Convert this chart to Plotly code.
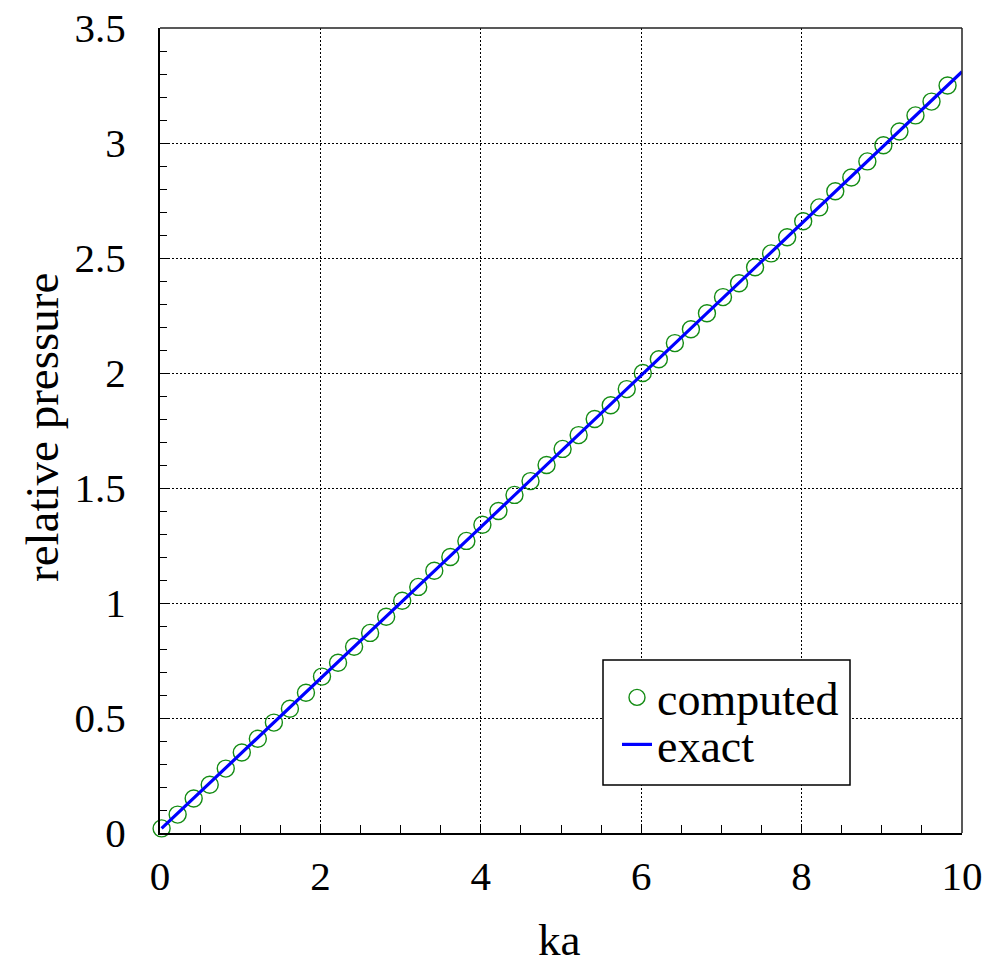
import plotly.graph_objects as go

# computed points (ka, relative pressure)
ka_computed = [0.02, 0.22, 0.42, 0.62, 0.82, 1.02, 1.22, 1.42, 1.62, 1.82,
               2.02, 2.22, 2.42, 2.62, 2.82, 3.02, 3.22, 3.42, 3.62, 3.82,
               4.02, 4.22, 4.42, 4.62, 4.82, 5.02, 5.22, 5.42, 5.62, 5.82,
               6.02, 6.22, 6.42, 6.62, 6.82, 7.02, 7.22, 7.42, 7.62, 7.82,
               8.02, 8.22, 8.42, 8.62, 8.82, 9.02, 9.22, 9.42, 9.62, 9.82]
p_computed = [0.02, 0.08, 0.15, 0.21, 0.28, 0.35, 0.41, 0.48, 0.54, 0.61,
              0.68, 0.74, 0.81, 0.87, 0.94, 1.01, 1.07, 1.14, 1.20, 1.27,
              1.34, 1.40, 1.47, 1.53, 1.60, 1.67, 1.73, 1.80, 1.86, 1.93,
              2.00, 2.06, 2.13, 2.19, 2.26, 2.33, 2.39, 2.46, 2.52, 2.59,
              2.66, 2.72, 2.79, 2.85, 2.92, 2.99, 3.05, 3.12, 3.18, 3.25]

# exact solution curve
ka_exact = [0.02, 2.0, 4.0, 6.0, 8.0, 10.0]
p_exact = [0.02, 0.67, 1.33, 1.99, 2.65, 3.31]

FONT = "Liberation Serif"
W, H = 989, 967
L, R, T, B = 160, 27, 28, 134
PW, PH = W - L - R, H - T - B


def px(xp):
    return (xp - L) / PW


def py(yp):
    return (H - B - yp) / PH


fig = go.Figure()
fig.add_trace(go.Scatter(
    x=ka_computed, y=p_computed, mode="markers", name="computed",
    marker=dict(symbol="circle-open", size=17, color="rgb(20,140,20)",
                line=dict(width=1.4, color="rgb(20,140,20)")),
    cliponaxis=False, legend="legend",
))
fig.add_trace(go.Scatter(
    x=ka_exact, y=p_exact, mode="lines", name="exact",
    line=dict(color="rgb(0,0,255)", width=3.2),
    cliponaxis=False, legend="legend2",
))

axis_common = dict(
    automargin=False,
    showline=True, linecolor="black", linewidth=2, mirror=False,
    ticks="inside", ticklen=8, tickcolor="black", tickwidth=1,
    showgrid=True, gridcolor="black", gridwidth=1, griddash="2px,2px",
    zeroline=False, tickfont=dict(family=FONT, size=41, color="black"),
)

fig.update_xaxes(range=[0, 10], tick0=0, dtick=2,
                 minor=dict(dtick=0.5, ticks="inside", ticklen=8,
                            tickcolor="black", showgrid=False),
                 ticklabelstandoff=6, **axis_common)
fig.update_yaxes(range=[0, 3.5], tick0=0, dtick=0.5,
                 minor=dict(dtick=0.1, ticks="inside", ticklen=7,
                            tickcolor="black", showgrid=False),
                 ticklabelstandoff=24, **axis_common)

legend_common = dict(
    bgcolor="rgba(0,0,0,0)", borderwidth=0, xanchor="left", yanchor="top",
    font=dict(family=FONT, size=46, color="black"),
)

fig.update_layout(
    template="none",
    width=W, height=H,
    margin=dict(l=L, r=R, t=T, b=B, pad=0, autoexpand=False),
    plot_bgcolor="white", paper_bgcolor="white",
    showlegend=True,
    legend=dict(x=px(617), y=py(661), **legend_common),
    legend2=dict(x=px(617), y=py(708), **legend_common),
    shapes=[
        dict(type="rect", xref="paper", yref="paper",
             x0=px(603), x1=px(850), y0=py(785), y1=py(660),
             line=dict(color="black", width=1.5), fillcolor="white",
             layer="above"),
        dict(type="line", xref="paper", yref="paper", x0=0, x1=1, y0=1, y1=1,
             line=dict(color="#222", width=1.5), layer="above"),
        dict(type="line", xref="paper", yref="paper", x0=1, x1=1, y0=0, y1=1,
             line=dict(color="#222", width=1.5), layer="above"),
    ],
    annotations=[
        dict(text="ka", xref="paper", yref="paper", x=px(559), y=py(940),
             xanchor="center", yanchor="middle", showarrow=False,
             font=dict(family=FONT, size=45, color="black")),
        dict(text="relative pressure", xref="paper", yref="paper",
             x=px(42), y=py(428), xanchor="center", yanchor="middle",
             textangle=-90, showarrow=False,
             font=dict(family=FONT, size=47, color="black")),
    ],
)

fig.write_html("out.html")
